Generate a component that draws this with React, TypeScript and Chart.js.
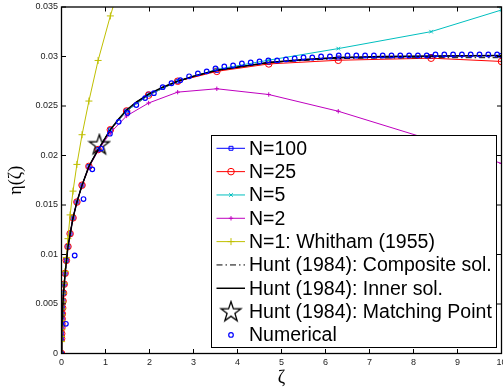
import React, { useEffect, useRef } from "react";
import { Chart, registerables } from "chart.js";
Chart.register(...registerables);

// ---------- tick values / labels ----------
const X_TICKS = [0, 1, 2, 3, 4, 5, 6, 7, 8, 9, 10];
const X_TICK_LABELS = ["0", "1", "2", "3", "4", "5", "6", "7", "8", "9", "10"];
const Y_TICKS = [0, 0.005, 0.01, 0.015, 0.02, 0.025, 0.03, 0.035];
const Y_TICK_LABELS = ["0", "0.005", "0.01", "0.015", "0.02", "0.025", "0.03", "0.035"];

// ---------- series data ----------
const NODE_X = [0, 0.0026, 0.0046, 0.0082, 0.0109, 0.0146, 0.0195, 0.026, 0.0347, 0.0463, 0.0618, 0.0825, 0.110, 0.147, 0.196, 0.262, 0.35, 0.467, 0.623, 0.832, 1.11, 1.48, 1.98, 2.64, 3.53, 4.71, 6.29, 8.40, 10];

const N100_Y = [0, 0.0015, 0.0020, 0.0026, 0.0030, 0.0035, 0.0040, 0.0046, 0.0053, 0.0061, 0.0070, 0.0081, 0.0094, 0.0108, 0.0121, 0.0137, 0.0153, 0.0170, 0.0189, 0.0206, 0.0226, 0.0245, 0.0262, 0.0275, 0.0286, 0.0294, 0.02985, 0.0300, 0.0301];
const N25_Y = [0, 0.0015, 0.0020, 0.0026, 0.0030, 0.0035, 0.0040, 0.0046, 0.0053, 0.0061, 0.0070, 0.0081, 0.0094, 0.0108, 0.0121, 0.0137, 0.0153, 0.0170, 0.0189, 0.0206, 0.0226, 0.0245, 0.0261, 0.0275, 0.0285, 0.02925, 0.02962, 0.02983, 0.0295];
const N5_Y = [0, 0.0015, 0.0020, 0.0026, 0.0030, 0.0035, 0.0040, 0.0046, 0.0053, 0.0061, 0.0070, 0.0081, 0.0094, 0.0108, 0.0121, 0.0137, 0.0153, 0.0170, 0.0189, 0.0206, 0.0226, 0.0245, 0.0261, 0.0275, 0.0287, 0.02963, 0.0308, 0.03251, 0.0347];
const N2_Y = [0, 0.0015, 0.0020, 0.0026, 0.0030, 0.0035, 0.0040, 0.0046, 0.0053, 0.0061, 0.0070, 0.0081, 0.0094, 0.0108, 0.0121, 0.0137, 0.0153, 0.0170, 0.0188, 0.0205, 0.0223, 0.0240, 0.0253, 0.0264, 0.02674, 0.02616, 0.02447, 0.02158, 0.0192];

const N1_X = [0, 0.0026, 0.0046, 0.0082, 0.0109, 0.0146, 0.0195, 0.026, 0.0347, 0.0463, 0.0618, 0.0825, 0.110, 0.147, 0.196, 0.262, 0.35, 0.467, 0.623, 0.832, 1.11, 1.48];
const N1_Y = [0, 0.0012, 0.0017, 0.0024, 0.0028, 0.0033, 0.0039, 0.0045, 0.0052, 0.0061, 0.0071, 0.0083, 0.0097, 0.0116, 0.0140, 0.0164, 0.0191, 0.0221, 0.0255, 0.0296, 0.0341, 0.0395];

const INNER_X = [0, 0.0026, 0.0046, 0.0082, 0.0146, 0.026, 0.0463, 0.0825, 0.147, 0.262, 0.35, 0.467, 0.623, 0.832, 1.11, 1.3, 1.48, 1.7, 1.98, 2.3, 2.64, 3.0, 3.53, 4.1, 4.71, 5.5, 6.29, 7.3, 8.4, 10];
const INNER_Y = [0, 0.0015, 0.0020, 0.0026, 0.0035, 0.0046, 0.0061, 0.0081, 0.0108, 0.0137, 0.0153, 0.0170, 0.0189, 0.0206, 0.0226, 0.0237, 0.0246, 0.0254, 0.0262, 0.0269, 0.0275, 0.0280, 0.0286, 0.0290, 0.0294, 0.0297, 0.0299, 0.0300, 0.03005, 0.0301];

const COMP_X = [0, 0.0026, 0.0046, 0.0082, 0.0146, 0.026, 0.0463, 0.0825, 0.147, 0.262, 0.35, 0.467, 0.623, 0.832, 1.11, 1.3, 1.48, 1.7, 1.98, 2.3, 2.64, 3.0, 3.53, 4.1, 4.71, 5.5, 6.29, 7.3, 8.4, 10];
const COMP_Y = [0, 0.0015, 0.0020, 0.0026, 0.0035, 0.0046, 0.0061, 0.0081, 0.0108, 0.0137, 0.0153, 0.0170, 0.0189, 0.0206, 0.0226, 0.0237, 0.0246, 0.0254, 0.0262, 0.0269, 0.0275, 0.0280, 0.0286, 0.0290, 0.0294, 0.0296, 0.0298, 0.02985, 0.02988, 0.02988];

const MATCH_X = [0.86];
const MATCH_Y = [0.0211];

const NUM_X = [0.1, 0.3, 0.5, 0.7, 0.9, 1.1, 1.3, 1.5, 1.7, 1.9, 2.1, 2.3, 2.5, 2.7, 2.9, 3.1, 3.3, 3.5, 3.7, 3.9, 4.1, 4.3, 4.5, 4.7, 4.9, 5.1, 5.3, 5.5, 5.7, 5.9, 6.1, 6.3, 6.5, 6.7, 6.9, 7.1, 7.3, 7.5, 7.7, 7.9, 8.1, 8.3, 8.5, 8.7, 8.9, 9.1, 9.3, 9.5, 9.7, 9.9];
const NUM_Y = [0.0030, 0.0099, 0.0156, 0.0186, 0.0207, 0.0222, 0.0234, 0.0243, 0.0251, 0.0258, 0.0263, 0.0269, 0.0273, 0.0276, 0.0280, 0.0283, 0.0285, 0.0288, 0.0290, 0.0291, 0.0293, 0.0294, 0.0295, 0.0296, 0.0296, 0.0297, 0.0298, 0.0299, 0.0299, 0.0300, 0.0300, 0.0301, 0.0301, 0.0301, 0.0301, 0.0301, 0.0301, 0.0301, 0.0301, 0.0301, 0.0301, 0.0301, 0.0302, 0.0302, 0.0302, 0.0302, 0.0302, 0.0302, 0.0302, 0.0302];

const LEGEND_LABELS = ["N=100", "N=25", "N=5", "N=2", "N=1: Whitham (1955)", "Hunt (1984): Composite sol.", "Hunt (1984): Inner sol.", "Hunt (1984): Matching Point", "Numerical"];
const X_TITLE = "ζ";
const Y_TITLE = "η(ζ)";

function pts(xs: number[], ys: number[]) {
  return xs.map((x, i) => ({ x, y: ys[i] }));
}

function makeStar(): HTMLCanvasElement {
  const c = document.createElement("canvas");
  c.width = 24;
  c.height = 24;
  const g = c.getContext("2d")!;
  const R = 10.5, r = 4.1, cx = 12, cy = 12.5;
  g.beginPath();
  for (let k = 0; k < 10; k++) {
    const rad = k % 2 === 0 ? R : r;
    const a = -Math.PI / 2 + (k * Math.PI) / 5;
    const px = cx + rad * Math.cos(a);
    const py = cy + rad * Math.sin(a);
    if (k === 0) g.moveTo(px, py);
    else g.lineTo(px, py);
  }
  g.closePath();
  g.strokeStyle = "#000";
  g.lineWidth = 1.3;
  g.stroke();
  return c;
}

function drawMarker(ctx: CanvasRenderingContext2D, style: any, x: number, y: number, r: number, color: string, lw: number) {
  if (!style || r <= 0) return;
  ctx.save();
  ctx.strokeStyle = color;
  ctx.lineWidth = lw;
  ctx.setLineDash([]);
  if (typeof style !== "string") {
    ctx.drawImage(style, x - style.width / 2, y - style.height / 2);
    ctx.restore();
    return;
  }
  ctx.beginPath();
  if (style === "circle") {
    ctx.arc(x, y, r, 0, Math.PI * 2);
  } else if (style === "rect") {
    const s = r * Math.SQRT1_2;
    ctx.rect(x - s, y - s, 2 * s, 2 * s);
  } else if (style === "cross") {
    ctx.moveTo(x - r, y); ctx.lineTo(x + r, y);
    ctx.moveTo(x, y - r); ctx.lineTo(x, y + r);
  } else if (style === "crossRot") {
    const s = r * Math.SQRT1_2;
    ctx.moveTo(x - s, y - s); ctx.lineTo(x + s, y + s);
    ctx.moveTo(x - s, y + s); ctx.lineTo(x + s, y - s);
  }
  ctx.stroke();
  ctx.restore();
}

const framePlugin = {
  id: "frame",
  afterDatasetsDraw(chart: any) {
    const { ctx, chartArea: a, scales } = chart;
    ctx.save();
    ctx.strokeStyle = "#000";
    ctx.lineWidth = 1.3;
    ctx.strokeRect(a.left, a.top, a.right - a.left, a.bottom - a.top);
    ctx.lineWidth = 1;
    ctx.beginPath();
    const tl = 4.5;
    for (const v of X_TICKS) {
      const px = scales.x.getPixelForValue(v);
      ctx.moveTo(px, a.bottom); ctx.lineTo(px, a.bottom - tl);
      ctx.moveTo(px, a.top); ctx.lineTo(px, a.top + tl);
    }
    for (const v of Y_TICKS) {
      const py = scales.y.getPixelForValue(v);
      ctx.moveTo(a.left, py); ctx.lineTo(a.left + tl, py);
      ctx.moveTo(a.right, py); ctx.lineTo(a.right - tl, py);
    }
    ctx.stroke();
    // axis titles
    ctx.fillStyle = "#000";
    ctx.font = '18px "Liberation Serif", serif';
    ctx.textAlign = "center";
    ctx.textBaseline = "middle";
    ctx.fillText(X_TITLE, scales.x.getPixelForValue(5), 378);
    ctx.translate(16, (a.top + a.bottom) / 2);
    ctx.rotate(-Math.PI / 2);
    ctx.fillText(Y_TITLE, 0, 0);
    ctx.restore();
  },
};

const legendPlugin = {
  id: "customLegend",
  afterDraw(chart: any) {
    const ctx = chart.ctx as CanvasRenderingContext2D;
    ctx.save();
    const L = 211, T = 135, R = 497, B = 348;
    ctx.fillStyle = "#fff";
    ctx.fillRect(L, T, R - L, B - T);
    ctx.strokeStyle = "#000";
    ctx.lineWidth = 1;
    ctx.strokeRect(L + 0.5, T + 0.5, R - L - 1, B - T - 1);
    const ds = chart.data.datasets;
    const legendOrder = ["N=100", "N=25", "N=5", "N=2", "N=1", "comp", "inner", "match", "num"];
    ctx.font = '19.5px "Liberation Sans", Arial, sans-serif';
    ctx.textBaseline = "middle";
    ctx.textAlign = "left";
    legendOrder.forEach((key, i) => {
      const d = ds.find((q: any) => q.key === key);
      const y = 148.3 + i * 23.33;
      if (d.showLine !== false) {
        ctx.save();
        ctx.strokeStyle = d.borderColor;
        ctx.lineWidth = d.borderWidth;
        ctx.setLineDash(d.borderDash || []);
        ctx.beginPath();
        ctx.moveTo(216.5, y);
        ctx.lineTo(245, y);
        ctx.stroke();
        ctx.restore();
      }
      drawMarker(ctx, d.pointStyle, 231, y, d.pointRadius, d.pointBorderColor || d.borderColor, d.pointBorderWidth || 1);
      ctx.fillStyle = "#000";
      ctx.fillText(LEGEND_LABELS[i], 249, y + 1);
    });
    ctx.restore();
  },
};

export default function App() {
  const ref = useRef<HTMLCanvasElement>(null);
  useEffect(() => {
    document.body.style.margin = "0";
    const canvas = ref.current!;
    const star = makeStar();
    const none = "rgba(0,0,0,0)";
    const chart = new Chart(canvas, {
      type: "scatter",
      data: {
        datasets: [
          { key: "N=100", data: pts(NODE_X, N100_Y), showLine: true, borderColor: "#0000ff", borderWidth: 1, pointStyle: "rect", pointRadius: 2.8, pointBorderWidth: 1, pointBackgroundColor: none, pointBorderColor: "#0000ff", order: 8 },
          { key: "N=25", data: pts(NODE_X, N25_Y), showLine: true, borderColor: "#ff0000", borderWidth: 1, pointStyle: "circle", pointRadius: 3.3, pointBorderWidth: 1, pointBackgroundColor: none, pointBorderColor: "#ff0000", order: 7 },
          { key: "N=5", data: pts(NODE_X, N5_Y), showLine: true, borderColor: "#00bfbf", borderWidth: 1, pointStyle: "crossRot", pointRadius: 2.5, pointBorderWidth: 1, pointBackgroundColor: none, pointBorderColor: "#00bfbf", order: 6 },
          { key: "N=2", data: pts(NODE_X, N2_Y), showLine: true, borderColor: "#bf00bf", borderWidth: 1, pointStyle: "cross", pointRadius: 2.2, pointBorderWidth: 1, pointBackgroundColor: none, pointBorderColor: "#bf00bf", order: 5 },
          { key: "N=1", data: pts(N1_X, N1_Y), showLine: true, borderColor: "#bfbf00", borderWidth: 1, pointStyle: "cross", pointRadius: 3.5, pointBorderWidth: 1, pointBackgroundColor: none, pointBorderColor: "#bfbf00", order: 4 },
          { key: "comp", data: pts(COMP_X, COMP_Y), showLine: true, borderColor: "#000000", borderWidth: 1, borderDash: [6, 3, 1.5, 3], pointRadius: 0, pointStyle: false, order: 3 },
          { key: "inner", data: pts(INNER_X, INNER_Y), showLine: true, borderColor: "#000000", borderWidth: 1.5, pointRadius: 0, pointStyle: false, order: 2 },
          { key: "match", data: pts(MATCH_X, MATCH_Y), showLine: false, borderColor: "#000000", pointStyle: star, pointRadius: 10, order: 1 },
          { key: "num", data: pts(NUM_X, NUM_Y), showLine: false, borderColor: "#0000ff", pointStyle: "circle", pointRadius: 2.3, pointBorderWidth: 1.2, pointBackgroundColor: none, pointBorderColor: "#0000ff", order: 0 },
        ] as any,
      },
      options: {
        animation: false,
        responsive: false,
        devicePixelRatio: 1,
        layout: { autoPadding: false, padding: { top: 7, right: 1.5, left: 0, bottom: 0 } },
        elements: { line: { tension: 0, fill: false } },
        plugins: { legend: { display: false }, tooltip: { enabled: false } },
        scales: {
          x: {
            type: "linear",
            min: 0,
            max: 10,
            grid: { display: false, drawTicks: false },
            border: { display: false },
            afterBuildTicks: (s: any) => { s.ticks = X_TICKS.map((v) => ({ value: v })); },
            afterFit: (s: any) => { s.height = 38.5; s.paddingLeft = 0; s.paddingRight = 0; },
            ticks: {
              padding: 4,
              autoSkip: false,
              maxRotation: 0,
              color: "#222",
              font: { family: '"Liberation Sans", Arial, sans-serif', size: 9 },
              callback: (_v: any, i: number) => X_TICK_LABELS[i],
            },
          },
          y: {
            type: "linear",
            min: 0,
            max: 0.035,
            grid: { display: false, drawTicks: false },
            border: { display: false },
            afterBuildTicks: (s: any) => { s.ticks = Y_TICKS.map((v) => ({ value: v })); },
            afterFit: (s: any) => { s.width = 61.5; s.paddingTop = 0; s.paddingBottom = 0; },
            ticks: {
              padding: 3.5,
              autoSkip: false,
              color: "#222",
              font: { family: '"Liberation Sans", Arial, sans-serif', size: 9 },
              callback: (_v: any, i: number) => Y_TICK_LABELS[i],
            },
          },
        },
      } as any,
      plugins: [framePlugin, legendPlugin],
    });
    return () => chart.destroy();
  }, []);
  return (
    <div style={{ position: "absolute", left: 0, top: 0, width: 503, height: 392, background: "#fff" }}>
      <canvas ref={ref} width={503} height={392} style={{ display: "block" }} />
    </div>
  );
}
